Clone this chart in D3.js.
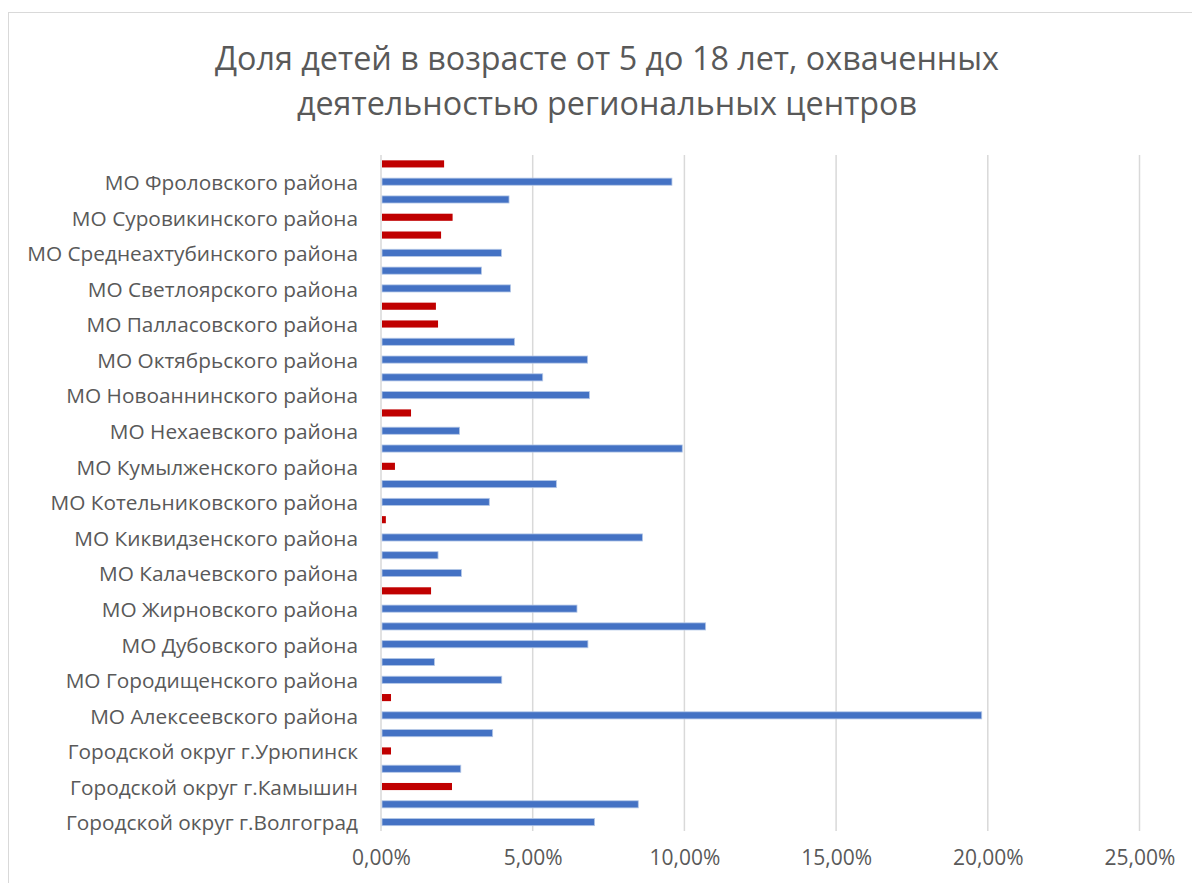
<!DOCTYPE html>
<html lang="ru">
<head>
<meta charset="utf-8">
<script src="https://cdn.jsdelivr.net/npm/d3@7"></script>
<style>
  body { margin: 0; background: #fff; }
  svg { display: block; }
</style>
</head>
<body>
<div id="chart"></div>
<script>
// Categories, listed bottom to top (Excel order)
const categories = [
  "Городской округ г.Волгоград",
  "Городской округ г.Волжский",
  "Городской округ г.Камышин",
  "Городской округ г.Михайловка",
  "Городской округ г.Урюпинск",
  "Городской округ г.Фролово",
  "МО Алексеевского района",
  "МО Быковского района",
  "МО Городищенского района",
  "МО Даниловского района",
  "МО Дубовского района",
  "МО Еланского района",
  "МО Жирновского района",
  "МО Иловлинского района",
  "МО Калачевского района",
  "МО Камышинского района",
  "МО Киквидзенского района",
  "МО Клетского района",
  "МО Котельниковского района",
  "МО Котовского района",
  "МО Кумылженского района",
  "МО Ленинского района",
  "МО Нехаевского района",
  "МО Николаевского района",
  "МО Новоаннинского района",
  "МО Новониколаевского района",
  "МО Октябрьского района",
  "МО Ольховского района",
  "МО Палласовского района",
  "МО Руднянского района",
  "МО Светлоярского района",
  "МО Серафимовичского района",
  "МО Среднеахтубинского района",
  "МО Старополтавского района",
  "МО Суровикинского района",
  "МО Урюпинского района",
  "МО Фроловского района",
  "МО Чернышковского района"
];

// Share of children (fraction), same order as categories
const shares = [
  0.0704, 0.0848, 0.0234, 0.0263, 0.0033, 0.0368, 0.1980, 0.0033,
  0.0398, 0.0176, 0.0682, 0.1070, 0.0646, 0.0165, 0.0265, 0.0188,
  0.0862, 0.0016, 0.0357, 0.0578, 0.0046, 0.0993, 0.0259, 0.0099,
  0.0687, 0.0533, 0.0681, 0.0440, 0.0188, 0.0181, 0.0427, 0.0331,
  0.0397, 0.0198, 0.0236, 0.0422, 0.0959, 0.0208
];

// Points drawn in red
const highlighted = [
  "Городской округ г.Камышин",
  "Городской округ г.Урюпинск",
  "МО Быковского района",
  "МО Иловлинского района",
  "МО Клетского района",
  "МО Кумылженского района",
  "МО Николаевского района",
  "МО Палласовского района",
  "МО Руднянского района",
  "МО Старополтавского района",
  "МО Суровикинского района",
  "МО Чернышковского района"
];

const xTicks = [0, 0.05, 0.10, 0.15, 0.20, 0.25];
const titleLines = [
  "Доля детей в возрасте от 5 до 18 лет, охваченных",
  "деятельностью региональных центров"
];

const data = categories.map((c, i) => ({ name: c, value: shares[i] }));

const W = 1192, H = 883;
const plot = { left: 381, right: 1139.5, top: 155, bottom: 831 };
const fontFam = "'Open Sans', sans-serif";
const textColor = "#595959";

const svg = d3.select("#chart").append("svg")
  .attr("width", W)
  .attr("height", H);

// Chart border
svg.append("rect")
  .attr("x", 8.5).attr("y", 12.5)
  .attr("width", W + 20).attr("height", H + 20)
  .attr("fill", "#fff")
  .attr("stroke", "#D9D9D9")
  .attr("stroke-width", 1);

// Title
svg.append("text")
  .attr("x", 607)
  .attr("text-anchor", "middle")
  .attr("font-family", fontFam)
  .attr("font-size", 32.3)
  .attr("fill", textColor)
  .selectAll("tspan")
  .data(titleLines)
  .enter()
  .append("tspan")
  .attr("x", 607)
  .attr("y", (d, i) => 70 + i * 45)
  .text(d => d);

// Scales
const x = d3.scaleLinear().domain([0, 0.25]).range([plot.left, plot.right]);
const y = d3.scaleBand()
  .domain(categories.slice().reverse())
  .range([plot.top, plot.bottom])
  .paddingInner(0.6)
  .paddingOuter(0.3);
const color = d3.scaleOrdinal()
  .domain([false, true])
  .range(["#4472C4", "#C00000"]);

const ru = d3.formatLocale({ decimal: ",", thousands: " ", grouping: [3], currency: ["", " ₽"] });
const pct = ru.format(".2%");

// Gridlines
svg.append("g")
  .selectAll("line")
  .data(xTicks)
  .enter()
  .append("line")
  .attr("x1", d => x(d)).attr("x2", d => x(d))
  .attr("y1", plot.top).attr("y2", plot.bottom)
  .attr("stroke", "#D9D9D9")
  .attr("stroke-width", 1.5);

// X axis labels
const xAxis = svg.append("g")
  .attr("transform", `translate(0, ${plot.bottom})`)
  .call(d3.axisBottom(x).tickValues(xTicks).tickFormat(pct).tickSize(0).tickPadding(19));
xAxis.select(".domain").remove();
xAxis.selectAll("text")
  .attr("font-family", fontFam)
  .attr("font-size", 21)
  .attr("fill", textColor);

// Y axis labels (every other category, like Excel)
const yAxis = svg.append("g")
  .attr("transform", `translate(${plot.left}, 0)`)
  .call(d3.axisLeft(y)
    .tickValues(categories.filter((d, i) => i % 2 === 0))
    .tickSize(0)
    .tickPadding(23));
yAxis.select(".domain").remove();
yAxis.selectAll("text")
  .attr("font-family", fontFam)
  .attr("font-size", 20.8)
  .attr("fill", textColor)
  .attr("dy", "0.4em");

// Bars
svg.append("g")
  .selectAll("rect")
  .data(data)
  .enter()
  .append("rect")
  .attr("x", x(0) + 1)
  .attr("y", d => y(d.name))
  .attr("width", d => x(d.value) - x(0) - 1)
  .attr("height", y.bandwidth())
  .attr("fill", d => color(highlighted.includes(d.name)))
  .attr("stroke", d => highlighted.includes(d.name) ? "none" : "#B4C7E7")
  .attr("stroke-width", 0.8);
</script>
</body>
</html>
